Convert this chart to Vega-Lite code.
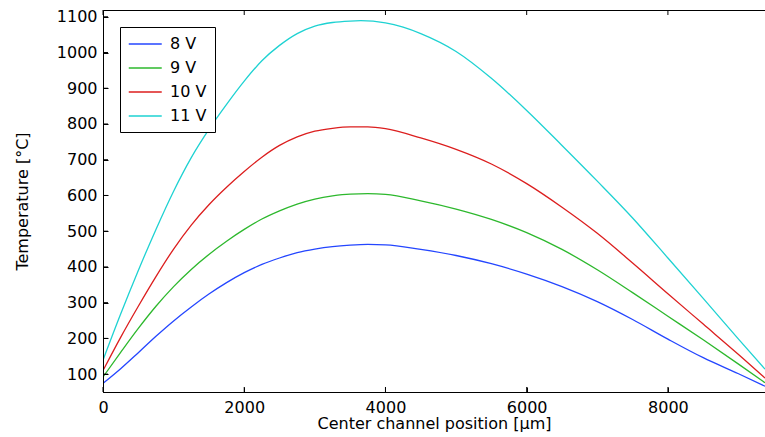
{
  "$schema": "https://vega.github.io/schema/vega-lite/v6.json",
  "width": 662,
  "height": 382,
  "autosize": {"type": "none"},
  "padding": {"left": 103, "top": 10, "right": 0, "bottom": 45},
  "background": "white",
  "config": {
    "font": "DejaVu Sans",
    "view": {"stroke": "black", "strokeWidth": 1}
  },
  "datasets": {
    "yt": [{"yv": 100}, {"yv": 200}, {"yv": 300}, {"yv": 400}, {"yv": 500}, {"yv": 600}, {"yv": 700}, {"yv": 800}, {"yv": 900}, {"yv": 1000}, {"yv": 1100}],
    "xt": [{"xv": 0}, {"xv": 2000}, {"xv": 4000}, {"xv": 6000}, {"xv": 8000}]
  },
  "data": {
    "values": [
      {"s": "8 V", "x": 0, "t": 74}, {"s": "8 V", "x": 250, "t": 115}, {"s": "8 V", "x": 500, "t": 160}, {"s": "8 V", "x": 750, "t": 206}, {"s": "8 V", "x": 1000, "t": 249}, {"s": "8 V", "x": 1250, "t": 288}, {"s": "8 V", "x": 1500, "t": 324}, {"s": "8 V", "x": 1750, "t": 356}, {"s": "8 V", "x": 2000, "t": 384}, {"s": "8 V", "x": 2250, "t": 407}, {"s": "8 V", "x": 2500, "t": 425}, {"s": "8 V", "x": 2750, "t": 440}, {"s": "8 V", "x": 3000, "t": 450}, {"s": "8 V", "x": 3250, "t": 457}, {"s": "8 V", "x": 3500, "t": 461}, {"s": "8 V", "x": 3750, "t": 463}, {"s": "8 V", "x": 4000, "t": 462}, {"s": "8 V", "x": 4500, "t": 449}, {"s": "8 V", "x": 5000, "t": 432}, {"s": "8 V", "x": 5500, "t": 409}, {"s": "8 V", "x": 6000, "t": 380}, {"s": "8 V", "x": 6500, "t": 345}, {"s": "8 V", "x": 7000, "t": 303}, {"s": "8 V", "x": 7500, "t": 253}, {"s": "8 V", "x": 8000, "t": 198}, {"s": "8 V", "x": 8500, "t": 146}, {"s": "8 V", "x": 9000, "t": 101}, {"s": "8 V", "x": 9375, "t": 66},
      {"s": "9 V", "x": 0, "t": 92}, {"s": "9 V", "x": 250, "t": 161}, {"s": "9 V", "x": 500, "t": 228}, {"s": "9 V", "x": 750, "t": 290}, {"s": "9 V", "x": 1000, "t": 345}, {"s": "9 V", "x": 1250, "t": 393}, {"s": "9 V", "x": 1500, "t": 435}, {"s": "9 V", "x": 1750, "t": 472}, {"s": "9 V", "x": 2000, "t": 505}, {"s": "9 V", "x": 2250, "t": 534}, {"s": "9 V", "x": 2500, "t": 557}, {"s": "9 V", "x": 2750, "t": 576}, {"s": "9 V", "x": 3000, "t": 590}, {"s": "9 V", "x": 3250, "t": 599}, {"s": "9 V", "x": 3500, "t": 604}, {"s": "9 V", "x": 3750, "t": 605}, {"s": "9 V", "x": 4000, "t": 603}, {"s": "9 V", "x": 4500, "t": 585}, {"s": "9 V", "x": 5000, "t": 562}, {"s": "9 V", "x": 5500, "t": 533}, {"s": "9 V", "x": 6000, "t": 496}, {"s": "9 V", "x": 6500, "t": 449}, {"s": "9 V", "x": 7000, "t": 392}, {"s": "9 V", "x": 7500, "t": 328}, {"s": "9 V", "x": 8000, "t": 262}, {"s": "9 V", "x": 8500, "t": 196}, {"s": "9 V", "x": 9000, "t": 128}, {"s": "9 V", "x": 9375, "t": 76},
      {"s": "10 V", "x": 0, "t": 110}, {"s": "10 V", "x": 250, "t": 203}, {"s": "10 V", "x": 500, "t": 290}, {"s": "10 V", "x": 750, "t": 373}, {"s": "10 V", "x": 1000, "t": 450}, {"s": "10 V", "x": 1250, "t": 517}, {"s": "10 V", "x": 1500, "t": 574}, {"s": "10 V", "x": 1750, "t": 623}, {"s": "10 V", "x": 2000, "t": 667}, {"s": "10 V", "x": 2250, "t": 707}, {"s": "10 V", "x": 2500, "t": 740}, {"s": "10 V", "x": 2750, "t": 764}, {"s": "10 V", "x": 3000, "t": 780}, {"s": "10 V", "x": 3250, "t": 788}, {"s": "10 V", "x": 3500, "t": 792}, {"s": "10 V", "x": 3750, "t": 792}, {"s": "10 V", "x": 4000, "t": 787}, {"s": "10 V", "x": 4500, "t": 761}, {"s": "10 V", "x": 5000, "t": 729}, {"s": "10 V", "x": 5500, "t": 688}, {"s": "10 V", "x": 6000, "t": 633}, {"s": "10 V", "x": 6500, "t": 567}, {"s": "10 V", "x": 7000, "t": 494}, {"s": "10 V", "x": 7500, "t": 411}, {"s": "10 V", "x": 8000, "t": 325}, {"s": "10 V", "x": 8500, "t": 240}, {"s": "10 V", "x": 9000, "t": 155}, {"s": "10 V", "x": 9375, "t": 89},
      {"s": "11 V", "x": 0, "t": 139}, {"s": "11 V", "x": 250, "t": 268}, {"s": "11 V", "x": 500, "t": 390}, {"s": "11 V", "x": 750, "t": 505}, {"s": "11 V", "x": 1000, "t": 612}, {"s": "11 V", "x": 1250, "t": 706}, {"s": "11 V", "x": 1500, "t": 785}, {"s": "11 V", "x": 1750, "t": 855}, {"s": "11 V", "x": 2000, "t": 920}, {"s": "11 V", "x": 2250, "t": 977}, {"s": "11 V", "x": 2500, "t": 1020}, {"s": "11 V", "x": 2750, "t": 1053}, {"s": "11 V", "x": 3000, "t": 1074}, {"s": "11 V", "x": 3250, "t": 1084}, {"s": "11 V", "x": 3500, "t": 1088}, {"s": "11 V", "x": 3650, "t": 1089}, {"s": "11 V", "x": 4000, "t": 1083}, {"s": "11 V", "x": 4250, "t": 1071}, {"s": "11 V", "x": 4500, "t": 1053}, {"s": "11 V", "x": 5000, "t": 1003}, {"s": "11 V", "x": 5500, "t": 928}, {"s": "11 V", "x": 6000, "t": 838}, {"s": "11 V", "x": 6500, "t": 740}, {"s": "11 V", "x": 7000, "t": 640}, {"s": "11 V", "x": 7500, "t": 537}, {"s": "11 V", "x": 8000, "t": 425}, {"s": "11 V", "x": 8500, "t": 312}, {"s": "11 V", "x": 9000, "t": 198}, {"s": "11 V", "x": 9375, "t": 114}
    ]
  },
  "layer": [
    {
      "mark": {"type": "line", "strokeWidth": 1.3, "interpolate": "monotone", "clip": true},
      "encoding": {
        "x": {
          "field": "x", "type": "quantitative",
          "scale": {"domain": [0, 9375], "nice": false, "zero": false},
          "axis": {"values": [0, 2000, 4000, 6000, 8000], "format": "d", "grid": false, "ticks": true, "tickSize": -5, "tickWidth": 1, "tickColor": "black", "domainColor": "black", "labelColor": "black", "labelFontSize": 16, "labelFont": "DejaVu Sans", "labelPadding": 12, "labelFlush": false, "labelOverlap": false, "title": "Center channel position [µm]", "titleFont": "DejaVu Sans", "titleFontSize": 16, "titleFontWeight": "normal", "titleColor": "black", "titlePadding": 0, "zindex": 2}
        },
        "y": {
          "field": "t", "type": "quantitative",
          "scale": {"domain": [50, 1119], "nice": false, "zero": false},
          "axis": {"values": [100, 200, 300, 400, 500, 600, 700, 800, 900, 1000, 1100], "format": "d", "grid": false, "ticks": true, "tickSize": -5, "tickWidth": 1, "tickColor": "black", "domainColor": "black", "labelColor": "black", "labelFontSize": 16, "labelFont": "DejaVu Sans", "labelPadding": 11, "labelFlush": false, "labelOverlap": false, "labelBound": false, "title": "Temperature [°C]", "titleFont": "DejaVu Sans", "titleFontSize": 16, "titleFontWeight": "normal", "titleColor": "black", "titlePadding": 26, "zindex": 2}
        },
        "color": {
          "field": "s", "type": "nominal",
          "scale": {"domain": ["8 V", "9 V", "10 V", "11 V"], "range": ["#2446ff", "#2db82d", "#dc1e1e", "#1ed2d2"]},
          "legend": {
            "title": null, "orient": "none", "legendX": 17, "legendY": 17, "zindex": 3,
            "strokeColor": "black", "fillColor": "white", "padding": 8,
            "symbolType": "M-1,0H3", "symbolSize": 272, "symbolStrokeWidth": 1.3,
            "labelFontSize": 16, "labelOffset": 24, "rowPadding": 7, "labelColor": "black", "labelFont": "DejaVu Sans"
          }
        }
      }
    },
    {
      "data": {"name": "yt"},
      "mark": {"type": "rule", "color": "black", "strokeWidth": 1},
      "encoding": {
        "y": {
          "field": "yv", "type": "quantitative",
          "axis": {"values": [100, 200, 300, 400, 500, 600, 700, 800, 900, 1000, 1100], "format": "d", "grid": false, "ticks": true, "tickSize": -5, "tickWidth": 1, "tickColor": "black", "domainColor": "black", "labelColor": "black", "labelFontSize": 16, "labelFont": "DejaVu Sans", "labelPadding": 11, "labelFlush": false, "labelOverlap": false, "labelBound": false, "title": "Temperature [°C]", "titleFont": "DejaVu Sans", "titleFontSize": 16, "titleFontWeight": "normal", "titleColor": "black", "titlePadding": 26, "zindex": 2}
        },
        "x": {
          "datum": 0, "type": "quantitative",
          "axis": {"values": [0, 2000, 4000, 6000, 8000], "format": "d", "grid": false, "ticks": true, "tickSize": -5, "tickWidth": 1, "tickColor": "black", "domainColor": "black", "labelColor": "black", "labelFontSize": 16, "labelFont": "DejaVu Sans", "labelPadding": 12, "labelFlush": false, "labelOverlap": false, "title": "Center channel position [µm]", "titleFont": "DejaVu Sans", "titleFontSize": 16, "titleFontWeight": "normal", "titleColor": "black", "titlePadding": 0, "zindex": 2}
        },
        "x2": {"datum": 71}
      }
    },
    {
      "data": {"name": "xt"},
      "mark": {"type": "rule", "color": "black", "strokeWidth": 1},
      "encoding": {
        "x": {
          "field": "xv", "type": "quantitative",
          "axis": {"values": [0, 2000, 4000, 6000, 8000], "format": "d", "grid": false, "ticks": true, "tickSize": -5, "tickWidth": 1, "tickColor": "black", "domainColor": "black", "labelColor": "black", "labelFontSize": 16, "labelFont": "DejaVu Sans", "labelPadding": 12, "labelFlush": false, "labelOverlap": false, "title": "Center channel position [µm]", "titleFont": "DejaVu Sans", "titleFontSize": 16, "titleFontWeight": "normal", "titleColor": "black", "titlePadding": 0, "zindex": 2}
        },
        "y": {
          "datum": 50, "type": "quantitative",
          "axis": {"values": [100, 200, 300, 400, 500, 600, 700, 800, 900, 1000, 1100], "format": "d", "grid": false, "ticks": true, "tickSize": -5, "tickWidth": 1, "tickColor": "black", "domainColor": "black", "labelColor": "black", "labelFontSize": 16, "labelFont": "DejaVu Sans", "labelPadding": 11, "labelFlush": false, "labelOverlap": false, "labelBound": false, "title": "Temperature [°C]", "titleFont": "DejaVu Sans", "titleFontSize": 16, "titleFontWeight": "normal", "titleColor": "black", "titlePadding": 26, "zindex": 2}
        },
        "y2": {"datum": 64}
      }
    },
    {
      "data": {"name": "xt"},
      "mark": {"type": "rule", "color": "black", "strokeWidth": 1},
      "encoding": {
        "x": {
          "field": "xv", "type": "quantitative",
          "axis": {"values": [0, 2000, 4000, 6000, 8000], "format": "d", "grid": false, "ticks": true, "tickSize": -5, "tickWidth": 1, "tickColor": "black", "domainColor": "black", "labelColor": "black", "labelFontSize": 16, "labelFont": "DejaVu Sans", "labelPadding": 12, "labelFlush": false, "labelOverlap": false, "title": "Center channel position [µm]", "titleFont": "DejaVu Sans", "titleFontSize": 16, "titleFontWeight": "normal", "titleColor": "black", "titlePadding": 0, "zindex": 2}
        },
        "y": {
          "datum": 1119, "type": "quantitative",
          "axis": {"values": [100, 200, 300, 400, 500, 600, 700, 800, 900, 1000, 1100], "format": "d", "grid": false, "ticks": true, "tickSize": -5, "tickWidth": 1, "tickColor": "black", "domainColor": "black", "labelColor": "black", "labelFontSize": 16, "labelFont": "DejaVu Sans", "labelPadding": 11, "labelFlush": false, "labelOverlap": false, "labelBound": false, "title": "Temperature [°C]", "titleFont": "DejaVu Sans", "titleFontSize": 16, "titleFontWeight": "normal", "titleColor": "black", "titlePadding": 26, "zindex": 2}
        },
        "y2": {"datum": 1105}
      }
    }
  ]
}
